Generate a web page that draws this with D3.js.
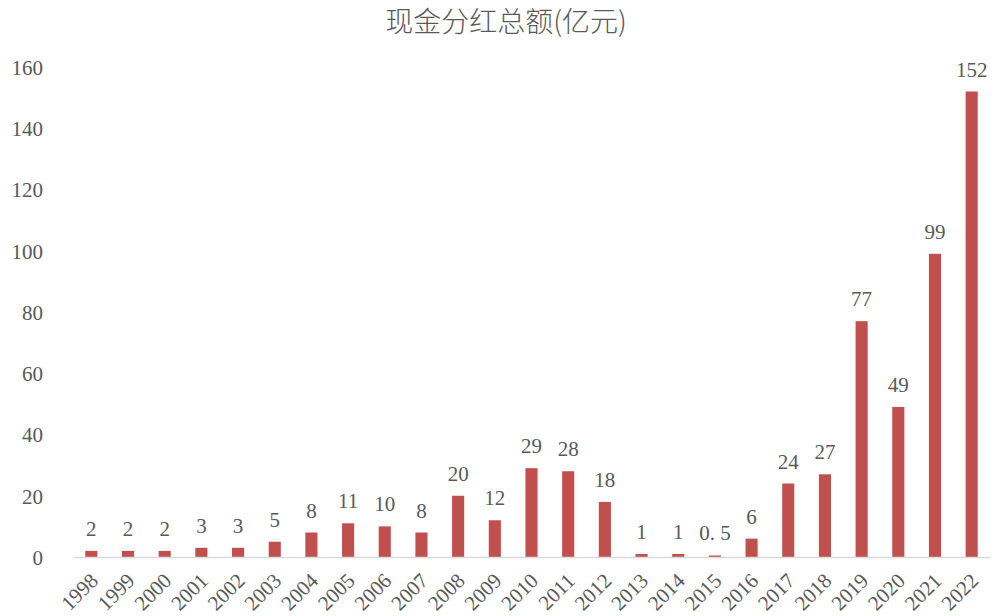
<!DOCTYPE html>
<html>
<head>
<meta charset="utf-8">
<script src="https://cdn.jsdelivr.net/npm/d3@7"></script>
<style>
  html, body { margin: 0; padding: 0; background: #ffffff; }
  svg { display: block; }
</style>
</head>
<body>
<svg id="chart" width="992" height="616"></svg>
<script>
// Annual cash dividends (100 million yuan)
const years = ["1998","1999","2000","2001","2002","2003","2004","2005","2006","2007",
               "2008","2009","2010","2011","2012","2013","2014","2015","2016","2017",
               "2018","2019","2020","2021","2022"];
const dividends = [2, 2, 2, 3, 3, 5, 8, 11, 10, 8,
                   20, 12, 29, 28, 18, 1, 1, 0.5, 6, 24,
                   27, 77, 49, 99, 152];
const yTicks = [0, 20, 40, 60, 80, 100, 120, 140, 160];
const title = "现金分红总额(亿元)";

const svg = d3.select("#chart");
const margin = { left: 73, right: 2, top: 67, bottom: 59 };
const W = 992, H = 616;

const x = d3.scaleBand()
  .domain(years)
  .range([margin.left, W - margin.right])
  .paddingInner(0.67)
  .paddingOuter(0.335);

const y = d3.scaleLinear()
  .domain([0, 160])
  .range([H - margin.bottom, margin.top]);

const textColor = "#595959";
const numFont = "'Liberation Serif', 'DejaVu Serif', serif";

// title
svg.append("text")
  .attr("x", 506)
  .attr("y", 32)
  .attr("text-anchor", "middle")
  .attr("font-family", "'Noto Sans CJK SC', sans-serif")
  .attr("font-size", 28)
  .attr("font-weight", 300)
  .attr("fill", textColor)
  .text(title);

// y axis labels (no line)
const yAxis = d3.axisLeft(y).tickValues(yTicks).tickSize(0).tickPadding(0);
const gy = svg.append("g")
  .attr("transform", `translate(43,0)`)
  .call(yAxis);
gy.select(".domain").remove();
gy.selectAll("text")
  .attr("font-family", numFont)
  .attr("font-size", 21)
  .attr("fill", textColor)
  .attr("dy", "0.35em");

// bars
svg.append("g")
  .selectAll("rect")
  .data(years)
  .join("rect")
  .attr("x", (d) => x(d))
  .attr("width", x.bandwidth())
  .attr("y", (d, i) => y(dividends[i]))
  .attr("height", (d, i) => y(0) - y(dividends[i]))
  .attr("fill", "#c0504d");

// baseline + x labels
const xAxis = d3.axisBottom(x).tickSize(0).tickPadding(0);
const gx = svg.append("g")
  .attr("transform", `translate(0,${y(0)})`)
  .call(xAxis);
gx.select(".domain")
  .attr("stroke", "#d9d9d9")
  .attr("stroke-width", 1.5);
gx.selectAll("text")
  .attr("font-family", numFont)
  .attr("font-size", 21)
  .attr("fill", textColor)
  .attr("text-anchor", "end")
  .attr("dy", 0)
  .attr("transform", "translate(8,25) rotate(-45)");

// value labels
const fmt = (v) => String(v).replace(".", ". ");
svg.append("g")
  .selectAll("text")
  .data(years)
  .join("text")
  .attr("x", (d) => x(d) + x.bandwidth() / 2)
  .attr("y", (d, i) => y(dividends[i]) - 15)
  .attr("text-anchor", "middle")
  .attr("font-family", numFont)
  .attr("font-size", 21)
  .attr("fill", textColor)
  .text((d, i) => fmt(dividends[i]));
</script>
</body>
</html>
